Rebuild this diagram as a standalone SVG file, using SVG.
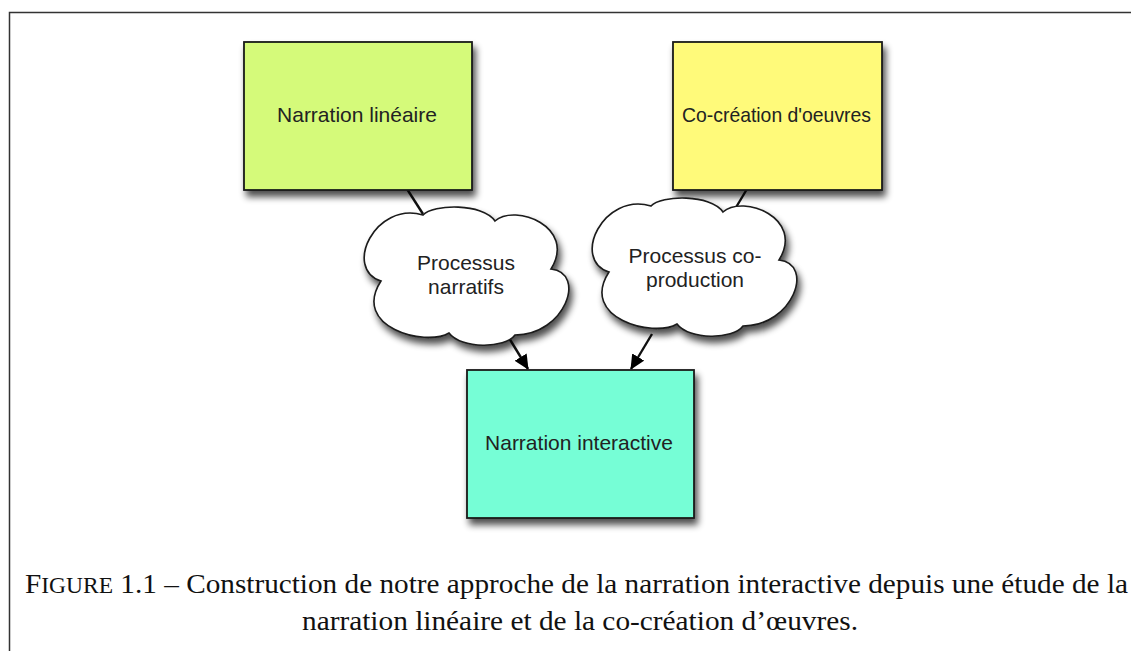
<svg xmlns="http://www.w3.org/2000/svg" width="1131" height="651" viewBox="0 0 1131 651">
  <style>
    .box { stroke: #1a1a1a; stroke-width: 1.8; }
    .cloud { fill: #ffffff; stroke: #1a1a1a; stroke-width: 1.6; }
    .lbl { font-family: "Liberation Sans", Arial, sans-serif; font-size: 21px; fill: #222222; text-anchor: middle; }
    .cap { font-family: "Liberation Serif", "Times New Roman", serif; font-size: 28px; fill: #111111; }
    .conn { stroke: #111111; stroke-width: 2.4; fill: none; }
  </style>
  <defs>
    <filter id="shadow" x="-20%" y="-20%" width="150%" height="160%">
      <feGaussianBlur in="SourceAlpha" stdDeviation="3.5"/>
      <feOffset dx="3" dy="6" result="b"/>
      <feComponentTransfer><feFuncA type="linear" slope="0.7"/></feComponentTransfer>
      <feMerge><feMergeNode/><feMergeNode in="SourceGraphic"/></feMerge>
    </filter>
    <marker id="arrow" viewBox="0 0 15 14" refX="14" refY="7" markerWidth="15" markerHeight="14" markerUnits="userSpaceOnUse" orient="auto">
      <path d="M0,0 L15,7 L0,14 z" fill="#000000"/>
    </marker>
    <path id="cloudShape" d="M16,74 C-22,62 10,-6 58,8 C68,-3 118,-4 130,14 C150,-4 212,20 186,62 C222,66 200,128 150,128 C140,142 96,142 84,126 C60,140 -14,120 16,74 Z"/>
  </defs>

  <!-- frame -->
  <g id="frame">
    <path d="M9.5,651 L9.5,12.5 L1131,12.5" fill="none" stroke="#333333" stroke-width="1.5"/>
  </g>

  <!-- connectors -->
  <g id="connectors">
    <line class="conn" x1="407" y1="189" x2="423" y2="214"/>
    <line class="conn" x1="747" y1="189" x2="735" y2="209"/>
    <line class="conn" x1="509" y1="338" x2="528" y2="369" marker-end="url(#arrow)"/>
    <line class="conn" x1="652" y1="334" x2="631" y2="369" marker-end="url(#arrow)"/>
  </g>

  <g id="node-lineaire">
    <rect class="box" x="244" y="42" width="228" height="148" fill="#d5fa7a" filter="url(#shadow)"/>
    <text class="lbl" x="357" y="122">Narration linéaire</text>
  </g>

  <g id="node-cocreation">
    <rect class="box" x="673" y="42" width="209" height="148" fill="#fffa7a" filter="url(#shadow)"/>
    <text class="lbl" x="682" y="122" style="text-anchor:start" textLength="189" lengthAdjust="spacingAndGlyphs">Co-création d'oeuvres</text>
  </g>

  <g id="node-processus-narratifs">
    <use href="#cloudShape" class="cloud" transform="translate(365,207)" filter="url(#shadow)"/>
    <text class="lbl" x="466" y="270">Processus</text>
    <text class="lbl" x="466" y="294">narratifs</text>
  </g>

  <g id="node-processus-coproduction">
    <use href="#cloudShape" class="cloud" transform="translate(593,198)" filter="url(#shadow)"/>
    <text class="lbl" x="695" y="263">Processus co-</text>
    <text class="lbl" x="695" y="287">production</text>
  </g>

  <g id="node-interactive">
    <rect class="box" x="467" y="370" width="227" height="148" fill="#76fed6" filter="url(#shadow)"/>
    <text class="lbl" x="579" y="450">Narration interactive</text>
  </g>

  <g id="caption">
    <text class="cap" x="25" y="593" textLength="1103" lengthAdjust="spacingAndGlyphs">F<tspan font-size="22.5">IGURE</tspan> 1.1 – Construction de notre approche de la narration interactive depuis une étude de la</text>
    <text class="cap" x="302" y="630" textLength="556" lengthAdjust="spacingAndGlyphs">narration linéaire et de la co-création d’œuvres.</text>
  </g>
</svg>
